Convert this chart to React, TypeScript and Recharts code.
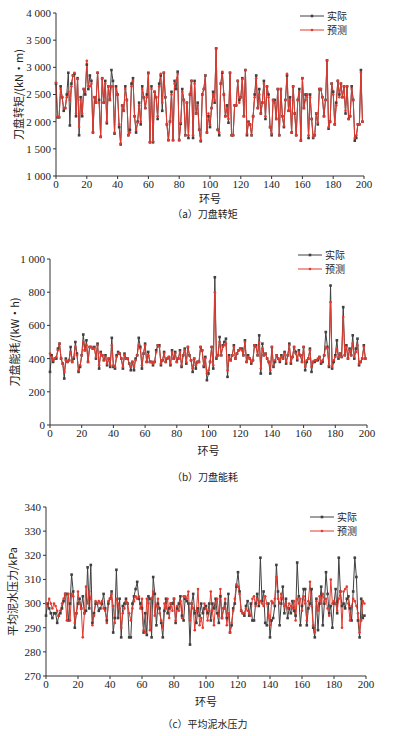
import React from "react";
import { LineChart, Line, XAxis, YAxis } from "recharts";

// 刀盘转矩 (kN·m)
const torqueActual = [
  2700, 2080, 2080, 2650, 2450, 2200, 2250, 2500, 2900, 1930, 2700, 2850, 2880, 2100, 2800, 1750, 2450, 2100, 2600, 2500,
  3050, 2600, 2850, 2750, 1800, 2450, 2350, 2900, 2400, 1720, 2800, 2350, 2750, 1970, 2650, 2400, 2950, 2750, 1780, 2650,
  2500, 1900, 1580, 2300, 2200, 2650, 2400, 1750, 1850, 2700, 2800, 2100, 1800, 2000, 2350, 1950, 2650, 2450, 2250, 2500,
  2900, 1620, 2650, 1620, 2550, 2450, 2050, 2700, 2850, 2200, 2900, 2450, 1950, 1660, 2000, 2550, 1660, 2750, 2600, 2920,
  1660, 1960, 2600, 2400, 1750, 2350, 1700, 2500, 2750, 1700, 2750, 2150, 2350, 1850, 1640, 2500, 2600, 2850, 1800, 2100,
  1900, 2250, 2550, 2350, 3350, 1850, 1750, 2700, 2900, 2500, 2100, 2300, 1980, 2900, 1750, 1750, 2300, 2300, 2750, 2400,
  2450, 2800, 2100, 2950, 1750, 2000, 1950, 1750, 2100, 2500, 2850, 2250, 2600, 2150, 2350, 2750, 2050, 2650, 2500, 1900,
  1750, 2400, 2400, 2050, 2600, 1750, 2600, 2100, 1900, 2400, 2850, 2200, 2450, 1800, 2650, 2150, 1750, 2400, 2600, 1650,
  2800, 2250, 2500, 2500, 1700, 2500, 2050, 1700, 1750, 2150, 1950, 2600, 2600, 2450, 2100, 2400, 3130, 1870, 2000, 2700,
  2550, 1950, 2350, 2750, 2500, 2700, 2450, 2650, 2150, 2650, 2050, 2100, 2650, 2400, 1650, 1700, 1950, 1950, 2950, 2000,
];
const torquePred = [
  2720, 2100, 2080, 2600, 2450, 2250, 2250, 2450, 2550, 2400, 2650, 2850, 2900, 2150, 2780, 1900, 2400, 2150, 2600, 2550,
  3120, 2650, 2650, 2700, 1800, 2450, 2350, 2900, 2350, 1720, 2800, 2350, 2700, 2000, 2650, 2400, 2650, 2650, 1800, 2600,
  2500, 1950, 1600, 2300, 2200, 2600, 2400, 1750, 1800, 2650, 2750, 2100, 1850, 1980, 2300, 2000, 2600, 2450, 2250, 2450,
  2880, 1620, 2600, 1640, 2550, 2450, 2100, 2650, 2880, 2350, 2900, 2450, 1950, 1660, 2000, 2500, 1660, 2700, 2750, 2880,
  1660, 1980, 2550, 2400, 1750, 2350, 1750, 2500, 2750, 1750, 2700, 2150, 2300, 1850, 1660, 2500, 2600, 2850, 1800, 2150,
  1950, 2250, 2500, 2400, 3350, 1850, 1800, 2700, 2920, 2500, 2100, 2250, 2050, 2900, 1750, 1750, 2300, 2300, 2750, 2350,
  2450, 2780, 2100, 2950, 1780, 1980, 1950, 1750, 2100, 2450, 2800, 2250, 2500, 2150, 2350, 2700, 2100, 2650, 2450, 1900,
  1780, 2400, 2350, 2050, 2600, 1750, 2600, 2100, 1920, 2400, 2880, 2200, 2400, 1800, 2650, 2150, 1750, 2400, 2550, 1650,
  2800, 2250, 2400, 2500, 1750, 2450, 2050, 1720, 1750, 2150, 1980, 2600, 2600, 2450, 2100, 2400, 3130, 1900, 2000, 2700,
  2500, 1950, 2300, 2750, 2450, 2700, 2450, 2650, 2200, 2650, 2050, 2100, 2600, 2400, 1700, 1750, 1950, 1950, 2900, 2000,
];

// 刀盘能耗 (kW·h)
const energyActual = [
  320, 420, 380, 400, 400, 460, 490, 400, 370, 280, 400, 380, 390, 470, 380, 400, 500, 430, 320, 350,
  420, 545, 450, 510, 380, 470, 470, 460, 470, 400, 490, 340, 440, 420, 390, 420, 360, 400, 350, 525,
  350, 340, 420, 440, 430, 400, 340, 430, 400, 400, 370, 330, 380, 330, 400, 420, 525, 470, 340, 430,
  490, 380, 440, 380, 380, 360, 380, 450, 480, 480, 360, 390, 440, 380, 400, 410, 360, 450, 400, 440,
  380, 400, 450, 350, 420, 460, 370, 470, 420, 390, 320, 400, 340, 380, 380, 470, 450, 350, 410, 270,
  310, 380, 470, 340, 890, 400, 420, 530, 420, 480, 500, 520, 290, 420, 390, 420, 480, 400, 430, 450,
  460, 460, 420, 510, 380, 420, 400, 370, 390, 480, 480, 420, 540, 310, 490, 420, 430, 400, 380, 310,
  470, 350, 380, 420, 400, 380, 420, 400, 440, 370, 420, 490, 370, 410, 470, 440, 390, 450, 420, 380,
  470, 330, 380, 400, 460, 320, 380, 380, 390, 390, 410, 370, 380, 420, 560, 470, 350, 840, 340, 380,
  420, 510, 400, 430, 410, 710, 420, 480, 400, 460, 420, 540, 400, 460, 520, 360, 380, 400, 480, 400,
];
const energyPred = [
  430, 410, 390, 400, 410, 450, 490, 400, 370, 320, 390, 380, 390, 440, 380, 410, 470, 420, 330, 360,
  420, 500, 450, 480, 380, 470, 470, 460, 460, 410, 480, 360, 430, 420, 390, 410, 370, 400, 360, 480,
  360, 350, 410, 430, 430, 400, 350, 420, 400, 400, 370, 350, 380, 350, 390, 420, 480, 460, 360, 430,
  480, 380, 420, 380, 380, 370, 380, 440, 480, 470, 370, 390, 430, 380, 400, 410, 370, 440, 400, 430,
  380, 400, 440, 360, 420, 450, 380, 470, 420, 390, 340, 400, 360, 380, 380, 470, 450, 360, 400, 310,
  330, 380, 470, 360, 800, 410, 420, 500, 420, 470, 480, 490, 330, 410, 390, 420, 470, 400, 430, 450,
  460, 450, 420, 500, 380, 410, 400, 380, 390, 480, 470, 420, 500, 340, 460, 420, 430, 400, 380, 330,
  470, 360, 390, 420, 400, 390, 410, 400, 430, 380, 420, 480, 380, 410, 470, 430, 400, 440, 420, 380,
  470, 350, 390, 400, 450, 350, 380, 390, 390, 400, 410, 380, 390, 420, 470, 460, 360, 740, 350, 390,
  410, 460, 410, 430, 410, 650, 420, 470, 400, 450, 420, 490, 410, 440, 480, 370, 380, 400, 470, 400,
];

// 平均泥水压力 (kPa)
const pressureActual = [
  295, 300, 298, 296, 294, 296, 296, 292, 295, 296, 298, 301, 304, 304, 293, 300, 312, 305, 290, 296,
  300, 302, 298, 303, 296, 297, 315, 298, 316, 292, 296, 300, 300, 297, 298, 300, 304, 298, 293, 300,
  302, 305, 288, 294, 314, 294, 302, 286, 299, 300, 302, 300, 286, 286, 300, 303, 306, 309, 302, 300,
  298, 288, 296, 287, 303, 302, 286, 311, 304, 291, 300, 298, 292, 286, 297, 302, 296, 298, 300, 300,
  302, 292, 298, 300, 303, 295, 293, 302, 301, 300, 283, 300, 304, 296, 292, 298, 295, 300, 296, 298,
  299, 296, 300, 293, 300, 298, 302, 296, 292, 303, 294, 298, 300, 294, 304, 288, 291, 298, 300, 307,
  313, 305, 297, 296, 295, 299, 301, 295, 300, 293, 293, 300, 304, 299, 319, 301, 305, 292, 291, 300,
  286, 293, 294, 299, 316, 305, 291, 300, 307, 296, 302, 294, 298, 296, 301, 297, 295, 317, 303, 291,
  299, 306, 306, 291, 298, 300, 306, 290, 286, 302, 289, 300, 307, 291, 300, 313, 304, 296, 299, 290,
  300, 306, 296, 319, 305, 299, 300, 298, 302, 303, 298, 293, 305, 319, 311, 293, 286, 302, 294, 295,
];
const pressurePred = [
  300, 299, 302, 300, 298, 300, 299, 297, 295, 297, 300, 302, 304, 293, 304, 293, 304, 303, 292, 296,
  305, 300, 298, 286, 296, 307, 300, 305, 302, 291, 295, 301, 300, 301, 300, 301, 298, 297, 292, 301,
  302, 304, 299, 292, 302, 300, 298, 290, 296, 298, 301, 300, 296, 293, 298, 301, 303, 302, 303, 298,
  302, 289, 288, 302, 300, 289, 302, 305, 295, 299, 302, 296, 293, 290, 300, 298, 302, 294, 300, 297,
  302, 293, 299, 297, 301, 294, 303, 303, 302, 305, 293, 300, 298, 289, 297, 306, 291, 294, 290, 300,
  298, 293, 297, 305, 297, 291, 300, 302, 295, 306, 294, 298, 302, 291, 296, 288, 292, 297, 302, 308,
  307, 304, 297, 296, 296, 298, 297, 296, 295, 302, 303, 299, 302, 300, 301, 300, 299, 303, 300, 295,
  291, 301, 300, 302, 311, 302, 300, 304, 302, 299, 300, 298, 300, 299, 298, 301, 293, 302, 300, 302,
  297, 303, 300, 293, 301, 309, 299, 291, 288, 301, 297, 303, 300, 304, 301, 302, 298, 295, 310, 300,
  301, 300, 297, 302, 305, 290, 305, 306, 307, 300, 293, 299, 302, 301, 299, 296, 288, 293, 301, 300,
];

const xTicks = [0, 20, 40, 60, 80, 100, 120, 140, 160, 180, 200];
const torqueTicks = [1000, 1500, 2000, 2500, 3000, 3500, 4000];
const energyTicks = [0, 200, 400, 600, 800, 1000];
const pressureTicks = [270, 280, 290, 300, 310, 320, 330, 340];

const GRAY = "#404040";
const RED = "#e23a2f";
const NUM_FONT = "'Liberation Serif', 'DejaVu Serif', serif";
const CJK_FONT = "'Noto Sans CJK SC', sans-serif";

const fmt = (v: number) =>
  v >= 1000 ? `${Math.floor(v / 1000)} ${String(v % 1000).padStart(3, "0")}` : String(v);

const SquareDot = (p: any) => (
  <rect key={`s${p.index}`} x={p.cx - 1.3} y={p.cy - 1.3} width={2.6} height={2.6} fill={GRAY} />
);
const RoundDot = (p: any) => (
  <circle key={`c${p.index}`} cx={p.cx} cy={p.cy} r={1.3} fill={RED} />
);

// legend drawn as a small svg on top of the chart
const LegendBox = ({ left, top }: { left: number; top: number }) => (
  <svg width={70} height={38} style={{ position: "absolute", left, top: top - 4 }}>
    <line x1={0} y1={10} x2={24} y2={10} stroke={GRAY} strokeWidth={1} />
    <rect x={10.7} y={8.7} width={2.6} height={2.6} fill={GRAY} />
    <text x={27} y={13.5} fontSize={10} fontFamily={CJK_FONT} fill="#222">实际</text>
    <line x1={0} y1={24} x2={24} y2={24} stroke={RED} strokeWidth={1} />
    <circle cx={12} cy={24} r={1.3} fill={RED} />
    <text x={27} y={27.5} fontSize={10} fontFamily={CJK_FONT} fill="#222">预测</text>
  </svg>
);

interface PanelProps {
  top: number;
  height: number;
  actual: number[];
  pred: number[];
  yTicks: number[];
  yLabel: string;
  yLabelX: number;
  yWidth: number;
  xHeight: number;
  xLabelOffset: number;
  margin: { top: number; right: number; bottom: number; left: number };
  legendPos: { left: number; top: number };
  caption: string;
  captionTop: number;
}

function Panel(props: PanelProps) {
  const { top, height, actual, pred, yTicks, yLabel, yLabelX, yWidth, xHeight, xLabelOffset, margin, legendPos, caption, captionTop } = props;
  const data = actual.map((a, i) => ({ ring: i, actual: a, pred: pred[i] }));
  const tickStyle = { fontSize: 11, fill: "#222", fontFamily: NUM_FONT };
  const yLabelContent = (p: any) => {
    const vb = p.viewBox || {};
    const cy = (vb.y ?? 0) + (vb.height ?? 0) / 2;
    return (
      <text
        x={yLabelX}
        y={cy}
        transform={`rotate(-90 ${yLabelX} ${cy})`}
        textAnchor="middle"
        dominantBaseline="central"
        fontSize={11}
        fontFamily={CJK_FONT}
        fill="#222"
      >
        {yLabel}
      </text>
    );
  };
  return (
    <>
      <div style={{ position: "absolute", left: 0, top, width: 394, height }}>
        <LineChart width={394} height={height} data={data} margin={margin}>
          <XAxis
            dataKey="ring"
            type="number"
            domain={[0, 200]}
            ticks={xTicks}
            tick={tickStyle}
            tickSize={3}
            tickMargin={1}
            stroke="#333"
            height={xHeight}
            label={{ value: "环号", position: "insideBottom", offset: xLabelOffset, fontSize: 11, fontFamily: CJK_FONT, fill: "#222" }}
          />
          <YAxis
            type="number"
            domain={[yTicks[0], yTicks[yTicks.length - 1]]}
            ticks={yTicks}
            tickFormatter={fmt}
            tick={tickStyle}
            tickSize={3}
            tickMargin={2}
            stroke="#333"
            width={yWidth}
            label={{ content: yLabelContent }}
          />
          <Line dataKey="actual" stroke={GRAY} strokeWidth={1} dot={SquareDot} isAnimationActive={false} />
          <Line dataKey="pred" stroke={RED} strokeWidth={1} dot={RoundDot} isAnimationActive={false} />
        </LineChart>
        <LegendBox left={legendPos.left} top={legendPos.top} />
      </div>
      <div
        style={{
          position: "absolute",
          left: 0,
          width: 410,
          top: captionTop,
          textAlign: "center",
          fontSize: 10,
          fontFamily: CJK_FONT,
          color: "#222",
        }}
      >
        {caption}
      </div>
    </>
  );
}

export default function App() {
  return (
    <div style={{ position: "absolute", left: 0, top: 0, width: 394, height: 736, background: "#fff" }}>
      <Panel
        top={0}
        height={206}
        actual={torqueActual}
        pred={torquePred}
        yTicks={torqueTicks}
        yLabel="刀盘转矩/(kN·m)"
        yLabelX={18}
        yWidth={56}
        xHeight={30}
        xLabelOffset={3}
        margin={{ top: 13, right: 30, bottom: 0, left: 0 }}
        legendPos={{ left: 300, top: 10 }}
        caption="（a）刀盘转矩"
        captionTop={206}
      />
      <Panel
        top={245}
        height={220}
        actual={energyActual}
        pred={energyPred}
        yTicks={energyTicks}
        yLabel="刀盘能耗/(kW·h)"
        yLabelX={14}
        yWidth={50}
        xHeight={30}
        xLabelOffset={0}
        margin={{ top: 14, right: 27, bottom: 10, left: 0 }}
        legendPos={{ left: 298, top: 4 }}
        caption="（b）刀盘能耗"
        captionTop={469}
      />
      <Panel
        top={495}
        height={215}
        actual={pressureActual}
        pred={pressurePred}
        yTicks={pressureTicks}
        yLabel="平均泥水压力/kPa"
        yLabelX={12}
        yWidth={46}
        xHeight={30}
        xLabelOffset={0}
        margin={{ top: 12, right: 28, bottom: 4, left: 0 }}
        legendPos={{ left: 310, top: 16 }}
        caption="（c）平均泥水压力"
        captionTop={716}
      />
    </div>
  );
}
